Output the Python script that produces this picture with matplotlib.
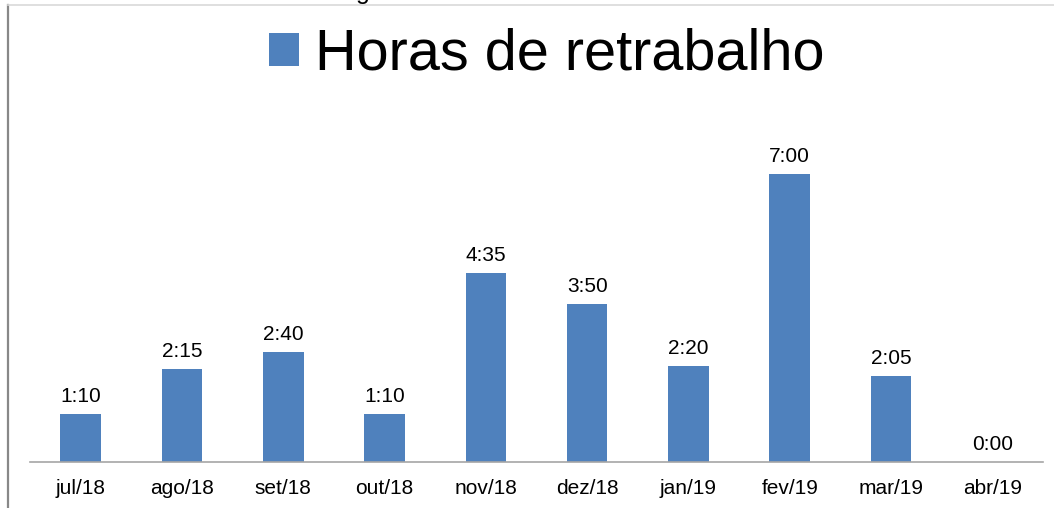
import matplotlib
matplotlib.use("Agg")
import matplotlib.pyplot as plt
from matplotlib.lines import Line2D

plt.rcParams['font.family'] = ['Liberation Sans', 'DejaVu Sans']

categories = ["jul/18", "ago/18", "set/18", "out/18", "nov/18", "dez/18",
              "jan/19", "fev/19", "mar/19", "abr/19"]
hours_labels = ["1:10", "2:15", "2:40", "1:10", "4:35", "3:50",
                "2:20", "7:00", "2:05", "0:00"]
series_name = "Horas de retrabalho"

minutes = [int(h.split(":")[0]) * 60 + int(h.split(":")[1]) for h in hours_labels]

W, H = 1054, 508
fig = plt.figure(figsize=(W / 100, H / 100), dpi=100)
ax = fig.add_axes([30 / W, (H - 462) / H, (1043 - 30) / W, (462 - 100) / H])

x = list(range(len(categories)))
bars = ax.bar(x, minutes, width=0.4, color="#4F81BD", label=series_name)
ax.bar_label(bars, labels=hours_labels, padding=6, fontsize=15, color="#000000")

ax.set_xlim(-0.5, len(categories) - 0.5)
ax.set_ylim(0, 528)
ax.set_xticks(x)
ax.set_xticklabels(categories, fontsize=15)
ax.tick_params(axis="x", length=0, pad=12)
ax.set_yticks([])
for s in ["top", "right", "left"]:
    ax.spines[s].set_visible(False)
ax.spines["bottom"].set_color("#A6A6A6")
ax.spines["bottom"].set_linewidth(1.2)

fig.legend(handles=[bars], labels=[series_name], loc="center",
           bbox_to_anchor=(547 / W, (H - 55) / H), frameon=False,
           fontsize=41.5, handlelength=0.52, handleheight=0.52,
           handletextpad=0.28, borderpad=0)

# frame lines of the surrounding slide/chart area
fig.add_artist(Line2D([7.5 / W, 7.5 / W], [0, (H - 5) / H], color="#888888",
                      linewidth=1.6, transform=fig.transFigure))
fig.add_artist(Line2D([8 / W, 1], [(H - 5) / H, (H - 5) / H], color="#D9D9D9",
                      linewidth=1.2, transform=fig.transFigure))
# partially cut-off text at the very top (cropped in the reference too)
fig.text(363 / W, 1 + 1 / H, "g", fontsize=18, ha="center", va="baseline")

fig.savefig("out.png", dpi=100)
